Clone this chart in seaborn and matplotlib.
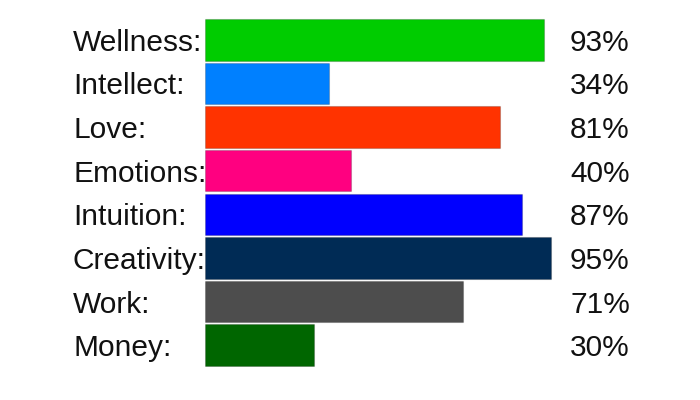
import matplotlib.pyplot as plt
import matplotlib.transforms as mtransforms
import seaborn as sns
import pandas as pd

categories = ["Wellness", "Intellect", "Love", "Emotions", "Intuition", "Creativity", "Work", "Money"]
values = [93, 34, 81, 40, 87, 95, 71, 30]
colors = ["#00CC00", "#0080FF", "#FF3300", "#FF0080", "#0000FF", "#002B55", "#4D4D4D", "#006600"]

df = pd.DataFrame({"cat": categories, "val": values})

sns.set_style("white")
plt.rcParams["font.family"] = ["Liberation Sans", "DejaVu Sans"]

fig = plt.figure(figsize=(7, 4), dpi=100)
ax = fig.add_axes([205 / 700, 1 - 367 / 400, 364 / 700, 349 / 400])

sns.barplot(data=df, x="val", y="cat", hue="cat", palette=colors, legend=False,
            saturation=1, width=0.95, ax=ax, edgecolor="#00000030", linewidth=0.8)

ax.set_xlim(0, 100)
ax.set_ylim(7.5, -0.5)
ax.axis("off")

trans = mtransforms.blended_transform_factory(fig.transFigure, ax.transData)
for i, (c, v) in enumerate(zip(categories, values)):
    ax.text(73 / 700, i, c + ":", transform=trans, ha="left", va="center_baseline",
            fontsize=21.5, color="#111111")
    ax.text(570 / 700, i, f"{v}%", transform=trans, ha="left", va="center_baseline",
            fontsize=21.5, color="#111111")

fig.savefig("out.png", dpi=100)
